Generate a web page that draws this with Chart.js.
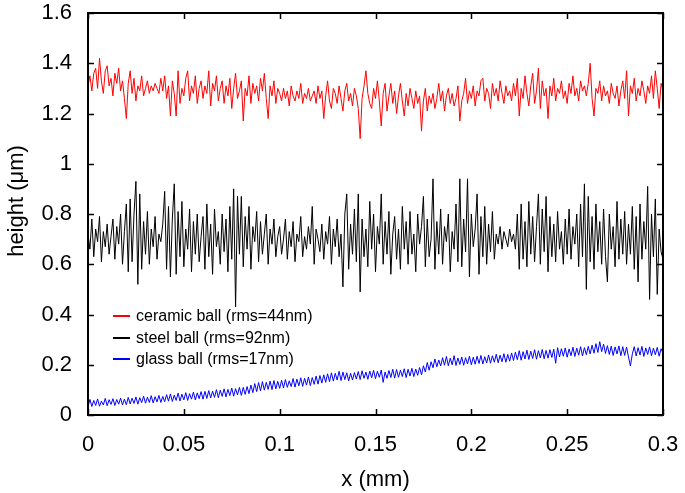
<!DOCTYPE html>
<html>
<head>
<meta charset="utf-8">
<script src="https://cdn.jsdelivr.net/npm/chart.js@4/dist/chart.umd.min.js"></script>
<style>
  html, body { margin: 0; padding: 0; background: #fff; }
  #wrap { width: 685px; height: 493px; }
</style>
</head>
<body>
<div id="wrap"><canvas id="profile"></canvas></div>
<script>
// sampling grid along the scan (mm)
const xStep = 0.001;
const nPoints = 301;

const seriesLabels = ['ceramic ball (rms=44nm)', 'steel ball (rms=92nm)', 'glass ball (rms=17nm)'];
const seriesColors = ['#ff0000', '#000000', '#0000ff'];

// heights in micrometres
const ceramicHeights = [
  1.31, 1.35, 1.29, 1.36, 1.38, 1.30, 1.42, 1.33, 1.28, 1.37, 1.39, 1.31, 1.34, 1.27, 1.36, 1.32, 1.38, 1.29, 1.33, 1.26,
  1.18, 1.32, 1.37, 1.28, 1.34, 1.25, 1.31, 1.29, 1.35, 1.27, 1.30, 1.33, 1.28, 1.31, 1.29, 1.32, 1.30, 1.28, 1.34, 1.29,
  1.35, 1.26, 1.31, 1.19, 1.33, 1.28, 1.19, 1.37, 1.24, 1.30, 1.27, 1.34, 1.37, 1.25, 1.31, 1.28, 1.35, 1.24, 1.30, 1.33,
  1.26, 1.31, 1.28, 1.37, 1.23, 1.32, 1.29, 1.35, 1.25, 1.30, 1.33, 1.24, 1.31, 1.27, 1.34, 1.22, 1.30, 1.36, 1.26, 1.29,
  1.33, 1.17, 1.30, 1.27, 1.35, 1.24, 1.32, 1.28, 1.31, 1.25, 1.34, 1.29, 1.36, 1.26, 1.18, 1.31, 1.27, 1.33, 1.24, 1.30,
  1.28, 1.25, 1.30, 1.26, 1.29, 1.23, 1.31, 1.27, 1.25, 1.29, 1.26, 1.32, 1.24, 1.28, 1.26, 1.30, 1.25, 1.27, 1.29, 1.24,
  1.31, 1.26, 1.29, 1.18, 1.27, 1.33, 1.25, 1.22, 1.30, 1.28, 1.24, 1.31, 1.26, 1.21, 1.29, 1.32, 1.25, 1.28, 1.23, 1.30,
  1.27, 1.22, 1.10, 1.26, 1.31, 1.37, 1.28, 1.24, 1.22, 1.30, 1.26, 1.33, 1.25, 1.15, 1.28, 1.32, 1.21, 1.27, 1.32, 1.24,
  1.29, 1.20, 1.27, 1.32, 1.25, 1.19, 1.28, 1.23, 1.30, 1.26, 1.22, 1.29, 1.24, 1.27, 1.13, 1.25, 1.30, 1.21, 1.27, 1.24,
  1.28, 1.22, 1.26, 1.32, 1.25, 1.29, 1.21, 1.27, 1.30, 1.24, 1.28, 1.23, 1.26, 1.31, 1.17, 1.25, 1.28, 1.34, 1.24, 1.29,
  1.26, 1.31, 1.23, 1.29, 1.27, 1.33, 1.34, 1.25, 1.30, 1.28, 1.22, 1.32, 1.27, 1.30, 1.25, 1.33, 1.28, 1.24, 1.31, 1.27,
  1.29, 1.25, 1.32, 1.27, 1.34, 1.19, 1.30, 1.26, 1.35, 1.28, 1.23, 1.31, 1.36, 1.24, 1.29, 1.38, 1.22, 1.33, 1.27, 1.30,
  1.18, 1.31, 1.27, 1.34, 1.25, 1.30, 1.28, 1.33, 1.26, 1.29, 1.24, 1.32, 1.28, 1.35, 1.27, 1.30, 1.25, 1.33, 1.29, 1.31,
  1.27, 1.32, 1.40, 1.26, 1.19, 1.30, 1.28, 1.33, 1.25, 1.31, 1.27, 1.29, 1.24, 1.32, 1.28, 1.26, 1.31, 1.23, 1.29, 1.33,
  1.26, 1.37, 1.19, 1.31, 1.28, 1.34, 1.25, 1.30, 1.27, 1.33, 1.29, 1.24, 1.31, 1.28, 1.35, 1.26, 1.37, 1.30, 1.22, 1.32,
  1.29
];

const steelHeights = [
  0.72, 0.66, 0.78, 0.63, 0.74, 0.69, 0.79, 0.61, 0.73, 0.67, 0.76, 0.64, 0.71, 0.78, 0.62, 0.75, 0.68, 0.80, 0.60, 0.73,
  0.84, 0.57, 0.86, 0.61, 0.80, 0.93, 0.52, 0.88, 0.58, 0.77, 0.64, 0.81, 0.60, 0.74, 0.67, 0.79, 0.62, 0.72, 0.69, 0.76,
  0.89, 0.58, 0.83, 0.55, 0.78, 0.92, 0.56, 0.81, 0.63, 0.85, 0.59, 0.74, 0.66, 0.82, 0.57, 0.77, 0.64, 0.80, 0.61, 0.71,
  0.79, 0.58, 0.84, 0.63, 0.76, 0.56, 0.82, 0.67, 0.73, 0.60, 0.80, 0.65, 0.78, 0.57, 0.83, 0.62, 0.90, 0.43, 0.87, 0.64,
  0.87, 0.59, 0.79, 0.66, 0.83, 0.58, 0.75, 0.69, 0.81, 0.61, 0.77, 0.64, 0.72, 0.80, 0.60, 0.74, 0.68, 0.78, 0.63, 0.71,
  0.75, 0.64, 0.70, 0.78, 0.62, 0.73, 0.67, 0.77, 0.61, 0.72, 0.69, 0.79, 0.63, 0.71, 0.66, 0.75, 0.68, 0.83, 0.60, 0.74,
  0.70, 0.65, 0.76, 0.62, 0.73, 0.68, 0.79, 0.60, 0.74, 0.67, 0.78, 0.63, 0.72, 0.51, 0.80, 0.88, 0.58, 0.76, 0.64, 0.82,
  0.61, 0.88, 0.49, 0.78, 0.63, 0.74, 0.59, 0.85, 0.66, 0.80, 0.57, 0.75, 0.68, 0.88, 0.60, 0.77, 0.64, 0.81, 0.56, 0.72,
  0.79, 0.62, 0.74, 0.58, 0.83, 0.66, 0.77, 0.60, 0.81, 0.64, 0.72, 0.57, 0.80, 0.68, 0.75, 0.87, 0.59, 0.78, 0.63, 0.70,
  0.94, 0.58, 0.77, 0.64, 0.82, 0.60, 0.75, 0.69, 0.80, 0.57, 0.73, 0.66, 0.84, 0.61, 0.94, 0.59, 0.78, 0.65, 0.94, 0.55,
  0.80, 0.67, 0.74, 0.88, 0.56, 0.79, 0.63, 0.83, 0.60, 0.76, 0.65, 0.81, 0.62, 0.72, 0.68, 0.75, 0.66, 0.73, 0.70, 0.67,
  0.74, 0.69, 0.72, 0.66, 0.80, 0.58, 0.84, 0.62, 0.77, 0.59, 0.85, 0.64, 0.79, 0.61, 0.75, 0.88, 0.60, 0.82, 0.65, 0.87,
  0.57, 0.79, 0.63, 0.76, 0.61, 0.81, 0.66, 0.73, 0.60, 0.78, 0.64, 0.82, 0.62, 0.75, 0.68, 0.80, 0.59, 0.84, 0.63, 0.92,
  0.50, 0.87, 0.61, 0.79, 0.58, 0.84, 0.65, 0.77, 0.60, 0.82, 0.63, 0.53, 0.80, 0.66, 0.75, 0.59, 0.85, 0.62, 0.78, 0.64,
  0.81, 0.60, 0.76, 0.64, 0.83, 0.58, 0.79, 0.53, 0.84, 0.62, 0.77, 0.66, 0.91, 0.46, 0.80, 0.63, 0.86, 0.48, 0.74, 0.65,
  0.62
];

const glassHeights = [
  0.032, 0.062, 0.034, 0.058, 0.038, 0.064, 0.035, 0.055, 0.040, 0.066, 0.037, 0.061, 0.042, 0.065, 0.038, 0.062, 0.043, 0.067, 0.040, 0.063,
  0.041, 0.070, 0.044, 0.067, 0.046, 0.072, 0.043, 0.069, 0.049, 0.075, 0.047, 0.071, 0.050, 0.077, 0.048, 0.073, 0.052, 0.078, 0.050, 0.074,
  0.053, 0.081, 0.055, 0.084, 0.054, 0.079, 0.058, 0.087, 0.056, 0.083, 0.060, 0.089, 0.058, 0.085, 0.063, 0.091, 0.060, 0.088, 0.065, 0.093,
  0.063, 0.094, 0.066, 0.097, 0.068, 0.095, 0.070, 0.101, 0.069, 0.099, 0.074, 0.104, 0.072, 0.102, 0.077, 0.107, 0.075, 0.105, 0.080, 0.110,
  0.078, 0.110, 0.082, 0.113, 0.085, 0.119, 0.089, 0.125, 0.093, 0.129, 0.096, 0.133, 0.099, 0.130, 0.102, 0.135, 0.101, 0.137, 0.104, 0.134,
  0.106, 0.138, 0.108, 0.141, 0.110, 0.136, 0.113, 0.145, 0.111, 0.143, 0.116, 0.148, 0.114, 0.146, 0.119, 0.151, 0.117, 0.149, 0.122, 0.155,
  0.123, 0.157, 0.127, 0.160, 0.130, 0.164, 0.133, 0.168, 0.135, 0.166, 0.139, 0.174, 0.137, 0.171, 0.141, 0.168, 0.136, 0.166, 0.139, 0.169,
  0.143, 0.173, 0.141, 0.176, 0.146, 0.171, 0.142, 0.175, 0.148, 0.178, 0.145, 0.174, 0.150, 0.179, 0.130, 0.171, 0.146, 0.177, 0.149, 0.182,
  0.147, 0.181, 0.150, 0.178, 0.153, 0.184, 0.149, 0.182, 0.155, 0.186, 0.153, 0.183, 0.158, 0.189, 0.160, 0.196, 0.171, 0.209, 0.178, 0.212,
  0.188, 0.223, 0.192, 0.219, 0.195, 0.228, 0.198, 0.233, 0.196, 0.226, 0.200, 0.236, 0.197, 0.227, 0.201, 0.231, 0.198, 0.228, 0.203, 0.234,
  0.200, 0.230, 0.202, 0.234, 0.205, 0.237, 0.203, 0.232, 0.207, 0.239, 0.206, 0.236, 0.210, 0.242, 0.208, 0.238, 0.212, 0.244, 0.210, 0.241,
  0.214, 0.247, 0.217, 0.250, 0.220, 0.256, 0.218, 0.252, 0.223, 0.258, 0.221, 0.254, 0.225, 0.260, 0.222, 0.256, 0.227, 0.261, 0.224, 0.257,
  0.226, 0.260, 0.229, 0.262, 0.206, 0.268, 0.231, 0.264, 0.234, 0.267, 0.230, 0.263, 0.236, 0.270, 0.233, 0.266, 0.238, 0.272, 0.235, 0.268,
  0.240, 0.273, 0.243, 0.278, 0.246, 0.284, 0.249, 0.292, 0.252, 0.282, 0.245, 0.276, 0.241, 0.274, 0.237, 0.271, 0.243, 0.275, 0.236, 0.272,
  0.237, 0.270, 0.231, 0.195, 0.243, 0.272, 0.235, 0.268, 0.239, 0.273, 0.233, 0.267, 0.241, 0.271, 0.236, 0.266, 0.240, 0.269, 0.234, 0.264,
  0.246
];

const xTicks = [0, 0.05, 0.1, 0.15, 0.2, 0.25, 0.3];
const xTickLabels = ['0', '0.05', '0.1', '0.15', '0.2', '0.25', '0.3'];
const yTicks = [0, 0.2, 0.4, 0.6, 0.8, 1.0, 1.2, 1.4, 1.6];
const yTickLabels = ['0', '0.2', '0.4', '0.6', '0.8', '1', '1.2', '1.4', '1.6'];
const yTitle = 'height (μm)';

const FONT = '"Liberation Sans", Arial, Helvetica, sans-serif';

function toPoints(values) {
    return values.slice(0, nPoints).map((v, i) => ({ x: i * xStep, y: v }));
}

// frame with inward ticks on all four sides
const framePlugin = {
    id: 'frame',
    afterDatasetsDraw(chart) {
        const { ctx, chartArea: a, scales } = chart;
        const tickLen = 6;
        ctx.save();
        ctx.strokeStyle = '#000';
        ctx.lineWidth = 1.5;
        ctx.beginPath();
        xTicks.forEach(v => {
            const px = Math.round(scales.x.getPixelForValue(v)) + 0.5;
            ctx.moveTo(px, a.bottom); ctx.lineTo(px, a.bottom - tickLen);
            ctx.moveTo(px, a.top); ctx.lineTo(px, a.top + tickLen);
        });
        yTicks.forEach(v => {
            const py = Math.round(scales.y.getPixelForValue(v)) + 0.5;
            ctx.moveTo(a.left, py); ctx.lineTo(a.left + tickLen, py);
            ctx.moveTo(a.right, py); ctx.lineTo(a.right - tickLen, py);
        });
        ctx.stroke();
        ctx.lineWidth = 2;
        ctx.strokeRect(a.left, a.top, a.right - a.left, a.bottom - a.top);

        // y axis title, sits a little above the middle like the original
        ctx.fillStyle = '#000';
        ctx.font = '22px ' + FONT;
        ctx.textAlign = 'center';
        ctx.textBaseline = 'middle';
        ctx.translate(17, 201);
        ctx.rotate(-Math.PI / 2);
        ctx.fillText(yTitle, 0, 0);
        ctx.restore();
    }
};

// legend inside the plot, lower left
const legendPlugin = {
    id: 'innerLegend',
    afterDatasetsDraw(chart) {
        const { ctx } = chart;
        const x0 = 113, y0 = 316, rowH = 21.5;
        ctx.save();
        ctx.font = '16px ' + FONT;
        ctx.textBaseline = 'middle';
        ctx.textAlign = 'left';
        chart.data.datasets.forEach((ds, i) => {
            const y = Math.round(y0 + i * rowH);
            ctx.strokeStyle = ds.borderColor;
            ctx.lineWidth = 2;
            ctx.beginPath();
            ctx.moveTo(x0, y); ctx.lineTo(x0 + 17, y);
            ctx.stroke();
            ctx.fillStyle = '#000';
            ctx.fillText(ds.label, x0 + 23, y + 1);
        });
        ctx.restore();
    }
};

const datasets = [ceramicHeights, steelHeights, glassHeights].map((vals, i) => ({
    label: seriesLabels[i],
    data: toPoints(vals),
    borderColor: seriesColors[i],
    backgroundColor: seriesColors[i],
    borderWidth: 1,
    pointRadius: 0,
    tension: 0,
    fill: false
}));

new Chart(document.getElementById('profile'), {
    type: 'line',
    data: { datasets },
    plugins: [framePlugin, legendPlugin],
    options: {
        responsive: true,
        maintainAspectRatio: false,
        animation: false,
        layout: { padding: { top: 13, right: 22, left: 0, bottom: 0 } },
        plugins: { legend: { display: false }, tooltip: { enabled: false } },
        scales: {
            x: {
                type: 'linear',
                min: 0,
                max: 0.3,
                grid: { display: false, drawTicks: false },
                border: { display: false },
                afterBuildTicks: s => { s.ticks = xTicks.map(v => ({ value: v })); },
                afterFit: s => { s.height = 78; s.paddingLeft = 0; s.paddingRight = 0; },
                ticks: {
                    color: '#000',
                    padding: 17,
                    maxRotation: 0,
                    font: { family: FONT, size: 22 },
                    callback: (v, i) => xTickLabels[i]
                },
                title: {
                    display: true,
                    text: 'x (mm)',
                    color: '#000',
                    font: { family: FONT, size: 22 },
                    padding: { top: 0, bottom: 0 }
                }
            },
            y: {
                min: 0,
                max: 1.6,
                grid: { display: false, drawTicks: false },
                border: { display: false },
                afterBuildTicks: s => { s.ticks = yTicks.map(v => ({ value: v })); },
                afterFit: s => { s.width = 88; s.paddingTop = 0; s.paddingBottom = 0; },
                ticks: {
                    color: '#000',
                    padding: 16,
                    font: { family: FONT, size: 22 },
                    callback: (v, i) => yTickLabels[i]
                }
            }
        }
    }
});
</script>
</body>
</html>
